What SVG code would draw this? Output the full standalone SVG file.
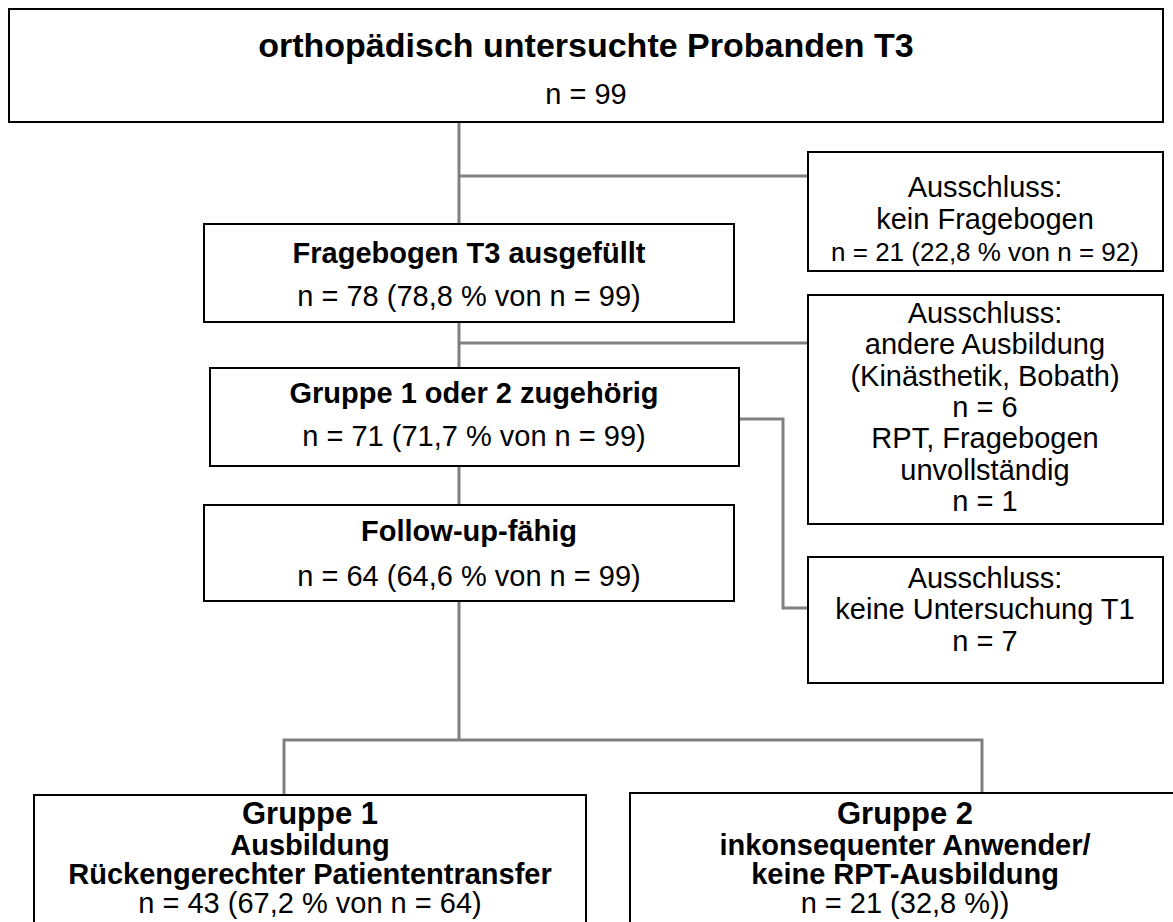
<svg xmlns="http://www.w3.org/2000/svg" width="1173" height="922" viewBox="0 0 1173 922">
<style>
.box{fill:#fff;stroke:#000;stroke-width:2}
.con{fill:none;stroke:#808080;stroke-width:3}
text{font-family:"Liberation Sans",Arial,sans-serif;fill:#000;text-anchor:middle}
.b{font-weight:bold;font-size:29px}
.r{font-size:29px}
.s{font-size:26px}
.t{font-weight:bold;font-size:34px}
.g{font-weight:bold;font-size:31px}
</style>
<rect width="1173" height="922" fill="#fff"/>
<g id="connectors">
<path class="con" d="M459,122 V740"/>
<path class="con" d="M459,176 H808"/>
<path class="con" d="M459,343 H808"/>
<path class="con" d="M739,419 H783 V608 H808"/>
<path class="con" d="M284,795 V740 H982 V793"/>
</g>
<g id="n_top">
<rect class="box" x="9" y="9" width="1154" height="113"/>
<text class="t" x="586" y="57">orthopädisch untersuchte Probanden T3</text>
<text class="r" x="586" y="104">n = 99</text>
</g>
<g id="n_excl1">
<rect class="box" x="808" y="152" width="355" height="119"/>
<text class="r" x="985" y="197">Ausschluss:</text>
<text class="r" x="985" y="229">kein Fragebogen</text>
<text class="s" x="985" y="261">n = 21 (22,8 % von n = 92)</text>
</g>
<g id="n_frage">
<rect class="box" x="204" y="224" width="530" height="98"/>
<text class="b" x="469" y="263">Fragebogen T3 ausgefüllt</text>
<text class="r" x="469" y="306">n = 78 (78,8 % von n = 99)</text>
</g>
<g id="n_excl2">
<rect class="box" x="808" y="295" width="355" height="229"/>
<text class="r" x="985" y="323">Ausschluss:</text>
<text class="r" x="985" y="354">andere Ausbildung</text>
<text class="r" x="985" y="386">(Kinästhetik, Bobath)</text>
<text class="r" x="985" y="417">n = 6</text>
<text class="r" x="985" y="448">RPT, Fragebogen</text>
<text class="r" x="985" y="480">unvollständig</text>
<text class="r" x="985" y="511">n = 1</text>
</g>
<g id="n_gruppe">
<rect class="box" x="210" y="368" width="529" height="98"/>
<text class="b" x="474" y="403">Gruppe 1 oder 2 zugehörig</text>
<text class="r" x="474" y="446">n = 71 (71,7 % von n = 99)</text>
</g>
<g id="n_follow">
<rect class="box" x="204" y="505" width="530" height="96"/>
<text class="b" x="469" y="541">Follow-up-fähig</text>
<text class="r" x="469" y="586">n = 64 (64,6 % von n = 99)</text>
</g>
<g id="n_excl3">
<rect class="box" x="808" y="557" width="355" height="126"/>
<text class="r" x="985" y="588">Ausschluss:</text>
<text class="r" x="985" y="619">keine Untersuchung T1</text>
<text class="r" x="985" y="651">n = 7</text>
</g>
<g id="n_g1">
<rect class="box" x="34" y="795" width="552" height="150"/>
<text class="g" x="310" y="824">Gruppe 1</text>
<text class="b" x="310" y="855">Ausbildung</text>
<text class="b" x="310" y="884">Rückengerechter Patiententransfer</text>
<text class="r" x="310" y="913">n = 43 (67,2 % von n = 64)</text>
</g>
<g id="n_g2">
<rect class="box" x="630" y="793" width="550" height="152"/>
<text class="g" x="905" y="824">Gruppe 2</text>
<text class="b" x="905" y="855">inkonsequenter Anwender/</text>
<text class="b" x="905" y="884">keine RPT-Ausbildung</text>
<text class="r" x="905" y="913">n = 21 (32,8 %))</text>
</g>
</svg>
